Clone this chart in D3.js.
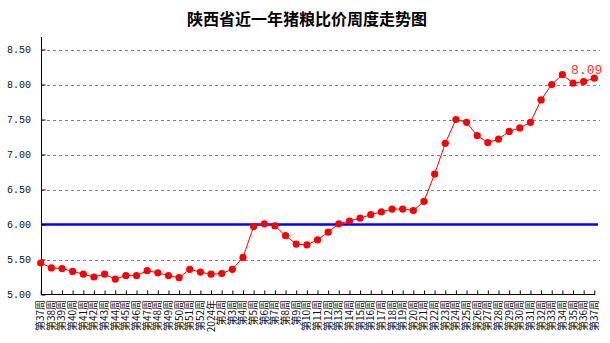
<!DOCTYPE html>
<html><head><meta charset="utf-8">
<script src="https://cdn.jsdelivr.net/npm/d3@7"></script>
<style>body{margin:0;background:#fff}svg{display:block}</style>
</head><body>
<svg id="c" width="610" height="343"></svg>
<script>
const categories = ["第37周","第38周","第39周","第40周","第41周","第42周","第43周","第44周","第45周","第46周","第47周","第48周","第49周","第50周","第51周","第52周","2024年","第2周","第3周","第4周","第5周","第6周","第7周","第8周","第9周","第10周","第11周","第12周","第13周","第14周","第15周","第16周","第17周","第18周","第19周","第20周","第21周","第22周","第23周","第24周","第25周","第26周","第27周","第28周","第29周","第30周","第31周","第32周","第33周","第34周","第35周","第36周","第37周"];
const values = [5.45,5.38,5.37,5.33,5.29,5.25,5.29,5.22,5.27,5.27,5.34,5.31,5.27,5.24,5.36,5.32,5.29,5.30,5.36,5.53,5.97,6.01,5.98,5.84,5.72,5.71,5.78,5.89,6.01,6.05,6.09,6.14,6.18,6.22,6.22,6.20,6.33,6.72,7.16,7.50,7.46,7.27,7.17,7.22,7.33,7.38,7.46,7.78,8.00,8.14,8.02,8.04,8.09];
const yTicks = [5.0,5.5,6.0,6.5,7.0,7.5,8.0,8.5];
const refValue = 6.0;
const title = "陕西省近一年猪粮比价周度走势图";

const svg = d3.select("#c");
const keys = categories.map((c,i)=>i);
const x = d3.scalePoint().domain(keys).range([40.7, 594.3]);
const y = d3.scaleLinear().domain([5, 8.5]).range([294.5, 49.5]);

// title
svg.append("text").attr("x",307).attr("y",25).attr("text-anchor","middle")
  .attr("font-family","'Noto Sans CJK SC',sans-serif").attr("font-weight","bold")
  .attr("font-size",16).attr("fill","#000").text(title);

// gridlines
svg.append("g").selectAll("line").data(yTicks.filter(t=>t!==5 && t!==refValue)).join("line")
  .attr("x1",41).attr("x2",600).attr("y1",d=>Math.round(y(d))+0.5).attr("y2",d=>Math.round(y(d))+0.5)
  .attr("stroke","#808080").attr("stroke-dasharray","3,3").attr("stroke-width",1);

// reference line
svg.append("line").attr("x1",41).attr("x2",598).attr("y1",y(refValue)).attr("y2",y(refValue))
  .attr("stroke","#0000ff").attr("stroke-width",2.5);

// y axis
const yAxis = d3.axisRight(y).tickValues(yTicks).tickSize(4).tickFormat("");
const gy = svg.append("g").attr("transform","translate(41.5,0)").call(yAxis);
gy.select(".domain").remove();
gy.selectAll(".tick line").attr("stroke","#000");
svg.append("line").attr("x1",41.5).attr("x2",41.5).attr("y1",37).attr("y2",295).attr("stroke","#000");
svg.append("g").selectAll("text").data(yTicks).join("text")
  .attr("x",31).attr("y",d=>y(d)).attr("dy","0.35em").attr("text-anchor","end")
  .attr("font-family","'Liberation Mono',monospace").attr("font-size",10).attr("fill","#111")
  .text(d=>d3.format(".2f")(d));

// x axis
const xAxis = d3.axisTop(x).tickSize(4).tickFormat("");
const gx = svg.append("g").attr("transform","translate(0,294.5)").call(xAxis);
gx.select(".domain").remove();
gx.selectAll(".tick line").attr("stroke","#000");
svg.append("line").attr("x1",41).attr("x2",595).attr("y1",294.5).attr("y2",294.5).attr("stroke","#000");
svg.append("g").selectAll("text").data(keys).join("text")
  .attr("transform",d=>`translate(${x(d)},300) rotate(-90)`)
  .attr("dy","0.35em").attr("text-anchor","end")
  .attr("font-family","'Noto Sans CJK SC',sans-serif").attr("font-size",10).attr("fill","#111")
  .text(d=>categories[d]);

// line
const line = d3.line().x((d,i)=>x(i)).y(d=>y(d));
svg.append("path").datum(values).attr("d",line).attr("fill","none").attr("stroke","#ff0000").attr("stroke-width",1);
svg.append("g").selectAll("circle").data(values).join("circle")
  .attr("cx",(d,i)=>x(i)).attr("cy",d=>y(d)).attr("r",3.6).attr("fill","#ff0000");

// last value label
const li = values.length-1;
svg.append("text").attr("x",x(li)+8).attr("y",y(values[li])-4.5).attr("text-anchor","end")
  .attr("font-family","'Liberation Mono',monospace").attr("font-size",13).attr("fill","#ff3030")
  .text(d3.format(".2f")(values[li]));
</script>
</body></html>
